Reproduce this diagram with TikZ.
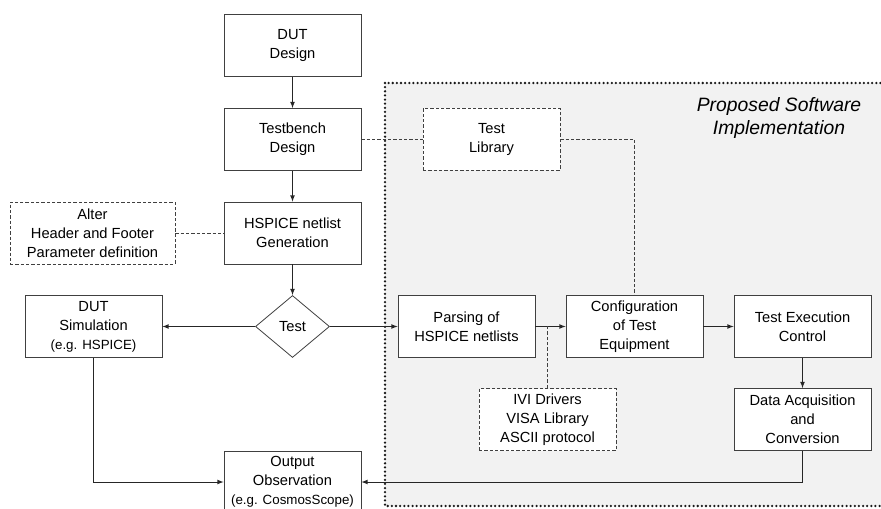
\documentclass[tikz,border=0pt]{standalone}
\usepackage{fontspec}
\setmainfont{Liberation Sans}
\usepackage{tikz}
\usetikzlibrary{shapes.geometric}

\tikzset{
  block/.style={draw=black!75, fill=white, line width=0.6pt, minimum width=102.75pt, minimum height=46.5pt, align=center, inner sep=1pt, font=\fontsize{11}{14.25}\selectfont},
  noteblock/.style={block, dash pattern=on 2.5pt off 1.5pt},
  decision/.style={draw=black!75, fill=white, line width=0.6pt, shape=diamond, minimum width=55.5pt, minimum height=46.5pt, inner sep=0pt, font=\fontsize{11}{14.25}\selectfont},
  flow/.style={draw=black!85, line width=0.6pt, -latex},
  link/.style={draw=black!75, line width=0.6pt, dash pattern=on 2.5pt off 1.5pt}
}
\newcommand{\eg}[1]{{\fontsize{10}{13.5}\selectfont (e.g. #1)}}

\begin{document}
\begin{tikzpicture}[x=0.75pt, y=-0.75pt]
  \useasboundingbox (0,0) rectangle (881,509);
  % software part
  \draw[fill=black!5, draw=black!90, line width=1.9pt, line cap=round, dash pattern=on 0pt off 3.1pt] (385,83) rectangle (900,506);
  \node[anchor=north, align=center, inner sep=0pt, font=\fontsize{14.5}{17.25}\selectfont\itshape] (title) at (779,97) {Proposed Software\\Implementation};

  \node[block] (dut) at (292.5,45.5) {DUT\\Design};
  \node[block] (tb) at (292.5,139.5) {Testbench\\Design};
  \node[noteblock] (lib) at (491.5,139.5) {Test\\Library};
  \node[block] (gen) at (292.5,233) {HSPICE netlist\\Generation};
  \node[noteblock, minimum width=123.75pt] (alter) at (92.5,233) {Alter\\Header and Footer\\Parameter definition};
  \node[decision] (test) at (292.5,326.5) {Test};
  \node[block] (sim) at (93.5,326.5) {DUT\\Simulation\\\eg{HSPICE}};
  \node[block] (parse) at (466.5,326.5) {Parsing of\\HSPICE netlists};
  \node[block] (conf) at (634.5,326.5) {Configuration\\of Test\\Equipment};
  \node[block] (exec) at (802.5,326.5) {Test Execution\\Control};
  \node[block] (daq) at (802.5,419.5) {Data Acquisition\\and\\Conversion};
  \node[noteblock] (ivi) at (547.5,419.5) {IVI Drivers\\VISA Library\\ASCII protocol};
  \node[block] (out) at (292.5,482) {Output\\Observation\\\eg{CosmosScope}};

  \draw[flow] (dut) -- (tb);
  \draw[flow] (tb) -- (gen);
  \draw[flow] (gen) -- (test);
  \draw[flow] (test) -- (sim);
  \draw[flow] (test) -- (parse);
  \draw[flow] (parse) -- (conf);
  \draw[flow] (conf) -- (exec);
  \draw[flow] (exec) -- (daq);
  \draw[flow] (sim) |- (out);
  \draw[flow] (daq) |- (out);

  \draw[link] (tb) -- (lib);
  \draw[link] (lib) -| (conf);
  \draw[link] (alter) -- (gen);
  \coordinate (tap) at (547.5,326.5);
  \draw[link] (ivi) -- (tap);
\end{tikzpicture}
\end{document}
